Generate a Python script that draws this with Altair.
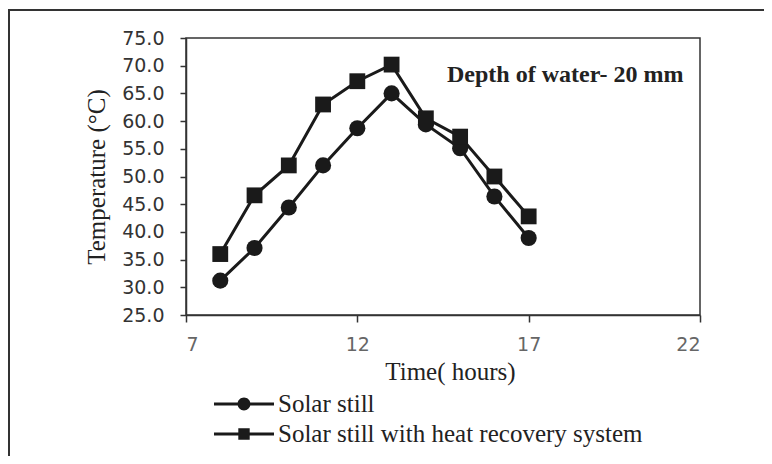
import altair as alt
import pandas as pd

hours = [8, 9, 10, 11, 12, 13, 14, 15, 16, 17]
solar_still = [31.2, 37.1, 44.4, 52.0, 58.7, 65.0, 59.4, 55.1, 46.4, 38.9]
heat_recovery = [36.0, 46.6, 52.0, 63.0, 67.2, 70.2, 60.5, 57.2, 50.0, 42.8]
series_names = ["Solar still", "Solar still with heat recovery system"]
x_ticks = [7, 12, 17, 22]
y_ticks = [25, 30, 35, 40, 45, 50, 55, 60, 65, 70, 75]
annotation = "Depth of water- 20 mm"

rows = []
for h, a, b in zip(hours, solar_still, heat_recovery):
    rows.append({"hour": h, "temp": a, "series": series_names[0]})
    rows.append({"hour": h, "temp": b, "series": series_names[1]})
df = pd.DataFrame(rows)

W, H = 514, 277
serif = "Liberation Serif"
ink = "#1a1a1a"

x_enc = alt.X("hour:Q", scale=alt.Scale(domain=[7, 22], nice=False, zero=False),
              axis=alt.Axis(values=x_ticks, title="Time( hours)", labelColor="#666666",
                            labelFont="DejaVu Sans", labelFontSize=19, labelPadding=13,
                            labelOverlap=False, titleX=264,
                            titleFont=serif, titleFontSize=25, titleFontWeight="normal",
                            titleColor="#222222", titlePadding=5, tickSize=7))
y_enc = alt.Y("temp:Q", scale=alt.Scale(domain=[25, 75], nice=False, zero=False),
              axis=alt.Axis(values=y_ticks, format=".1f", title="Temperature  (°C)",
                            labelColor="#333333", labelFont="DejaVu Sans", labelFontSize=19,
                            labelOverlap=False, labelBound=False,
                            labelPadding=16, titleFont=serif, titleFontSize=25,
                            titleFontWeight="normal", titleColor="#222222", titlePadding=12,
                            tickSize=6))

base = alt.Chart(df).encode(x=x_enc, y=y_enc)

lines = base.mark_line(color=ink, strokeWidth=3).encode(detail="series:N")

circles = base.transform_filter(alt.datum.series == series_names[0]).mark_point(
    filled=True, color=ink, opacity=1, size=260, shape="circle")
squares = base.transform_filter(alt.datum.series == series_names[1]).mark_point(
    filled=True, color=ink, opacity=1, size=250, shape="square")

# legend glyphs: a line segment with the marker in the middle (filled shapes)
circle_path = ("M-2,-0.1H-0.42V0.1H-2Z M0.42,-0.1H2V0.1H0.42Z "
               "M0.43,0A0.43,0.43,0,1,1,-0.43,0A0.43,0.43,0,1,1,0.43,0Z")
square_path = ("M-2,-0.1H-0.38V0.1H-2Z M0.38,-0.1H2V0.1H0.38Z "
               "M-0.38,-0.38H0.38V0.38H-0.38Z")

legend_layer = base.mark_point(filled=True, color=ink, opacity=0).encode(
    shape=alt.Shape("series:N", sort=series_names,
                    scale=alt.Scale(domain=series_names, range=[circle_path, square_path]),
                    legend=alt.Legend(title=None, orient="none", legendX=43, legendY=351,
                                      symbolSize=900, symbolOpacity=1,
                                      symbolFillColor=ink, symbolStrokeWidth=0,
                                      labelFont=serif,
                                      labelFontSize=25, labelColor="#222222",
                                      labelOffset=19, rowPadding=2, labelLimit=500)))

ann = alt.Chart(pd.DataFrame({"t": [annotation]})).mark_text(
    font=serif, fontSize=24, fontWeight="bold", color="#222222", align="left",
    baseline="middle").encode(text="t:N", x=alt.value(261), y=alt.value(37))

frame_top = alt.Chart(pd.DataFrame({"a": [0]})).mark_rule(color="#333333", strokeWidth=2).encode(
    x=alt.value(-178), x2=alt.value(600), y=alt.value(-28))
frame_left = alt.Chart(pd.DataFrame({"a": [0]})).mark_rule(color="#333333", strokeWidth=2).encode(
    x=alt.value(-177), y=alt.value(-28), y2=alt.value(430))

chart = alt.layer(lines, circles, squares, legend_layer, ann, frame_top, frame_left).properties(
    width=W, height=H,
    autosize=alt.AutoSizeParams(type="none"),
    padding={"left": 178, "top": 30, "right": 64, "bottom": 141},
).configure_view(
    stroke="#333333", strokeWidth=1.5
).configure_axis(
    grid=False, domainColor="#333333", domainWidth=1.5, tickColor="#333333", tickWidth=1.5,
    labelOverlap=False
)

chart.save("out.html", embed_options={"renderer": "svg", "actions": False})
